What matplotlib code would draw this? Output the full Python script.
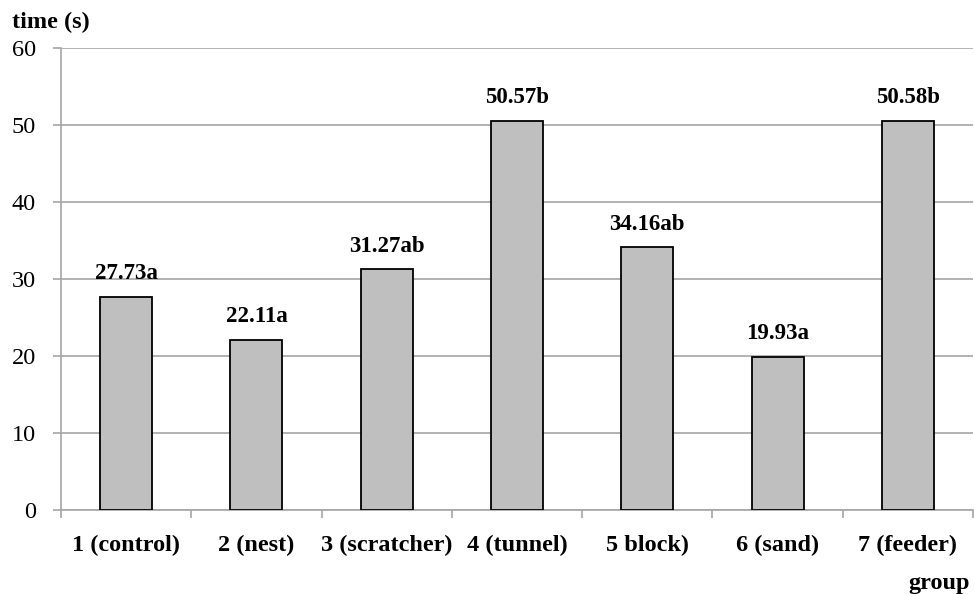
import matplotlib.pyplot as plt
import numpy as np

groups = ['1 (control)', '2 (nest)', '3 (scratcher)', '4 (tunnel)', '5 block)', '6 (sand)', '7 (feeder)']
times = [27.73, 22.11, 31.27, 50.57, 34.16, 19.93, 50.58]
letters = ['a', 'a', 'ab', 'b', 'ab', 'a', 'b']
yticks = [0, 10, 20, 30, 40, 50, 60]

plt.rcParams['font.family'] = ['Liberation Serif', 'DejaVu Serif']

fig = plt.figure(figsize=(9.74, 5.94), dpi=100)
ax = fig.add_axes([0.0626, 0.1414, 0.9364, 0.7776])

x = np.arange(len(groups))
grid_c = '#a6a6a6'
ax.bar(x, times, width=0.4, color='#bfbfbf', edgecolor='black', linewidth=1.3, zorder=3)

for xi, v, l in zip(x, times, letters):
    ax.annotate('{:.2f}{}'.format(v, l), (xi, v), xytext=(0, 9), textcoords='offset points',
                ha='center', va='bottom', fontsize=16.5, fontweight='bold')

ax.set_xlim(-0.5, len(groups) - 0.5)
ax.set_ylim(0, 60)
ax.set_yticks(yticks)
ax.set_yticklabels([str(t) for t in yticks], fontsize=17.5)
ax.yaxis.grid(True, color=grid_c, linewidth=1.2, zorder=0)
ax.set_axisbelow(True)
ax.tick_params(axis='y', length=6, color=grid_c, width=1.2, pad=12)

ax.set_xticks(x)
ax.set_xticklabels(groups, fontsize=17.5, fontweight='bold')
ax.tick_params(axis='x', length=0, pad=18)
ax.set_xticks(np.arange(len(groups) + 1) - 0.5, minor=True)
ax.tick_params(axis='x', which='minor', length=6, color=grid_c, width=1.2)

for s in ['top', 'right']:
    ax.spines[s].set_visible(False)
for s in ['left', 'bottom']:
    ax.spines[s].set_color(grid_c)
    ax.spines[s].set_linewidth(1.2)

fig.text(0.012, 0.962, 'time (s)', fontsize=17.5, fontweight='bold', va='center')
fig.text(0.996, 0.017, 'group', fontsize=17.5, fontweight='bold', ha='right', va='center')

fig.savefig('out.png', dpi=100)
